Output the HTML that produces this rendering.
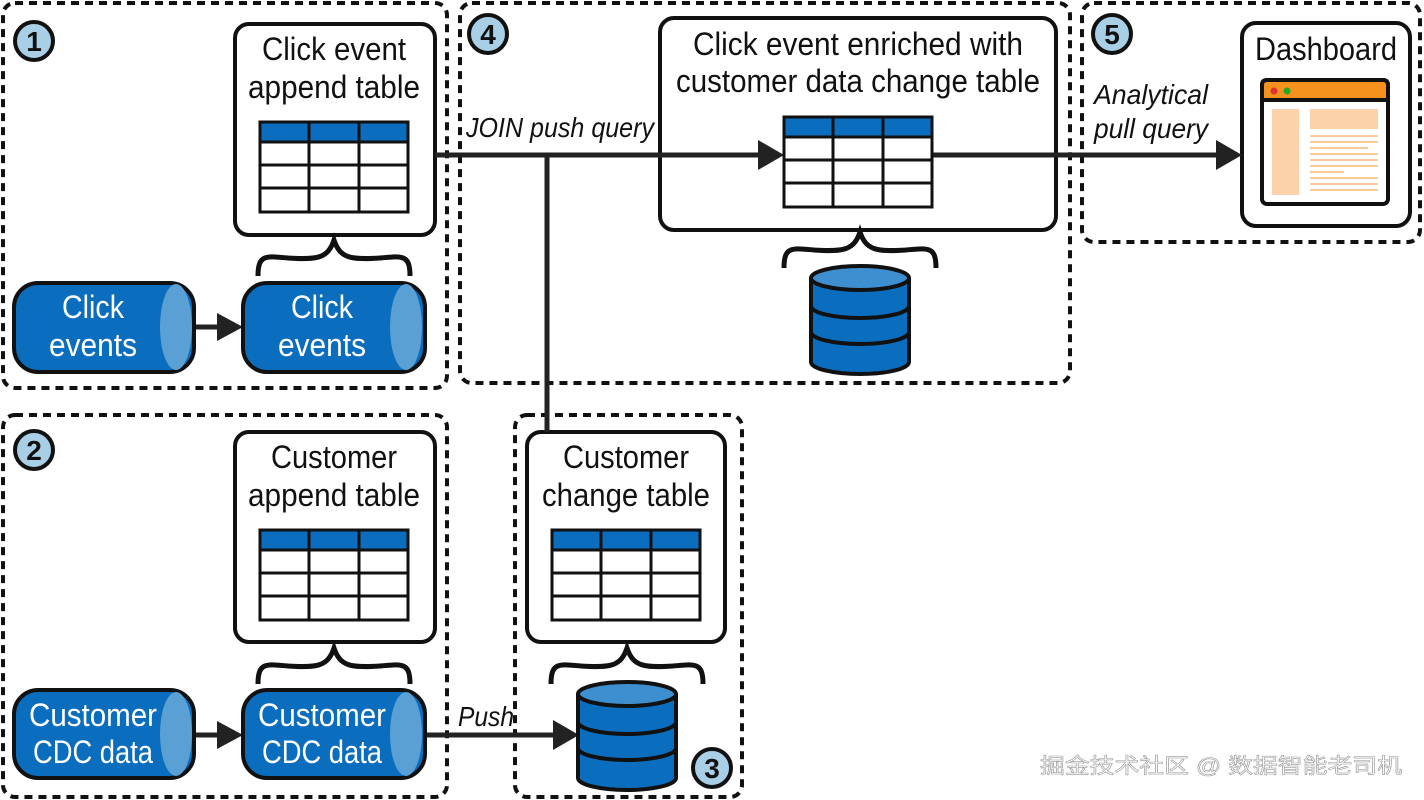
<!DOCTYPE html>
<html><head><meta charset="utf-8"><style>body{margin:0;background:#fff}svg{display:block}text{font-family:"Liberation Sans","Noto Sans CJK SC",sans-serif}</style></head><body>
<svg width="1424" height="800" viewBox="0 0 1424 800" xmlns="http://www.w3.org/2000/svg">
<defs>
<g id="tbl">
<rect x="0" y="0" width="148" height="90" fill="#fff" stroke="#111" stroke-width="3"/>
<rect x="0" y="0" width="148" height="20" fill="#0a6dbd" stroke="#111" stroke-width="3"/>
<line x1="0" y1="43" x2="148" y2="43" stroke="#111" stroke-width="3"/>
<line x1="0" y1="66" x2="148" y2="66" stroke="#111" stroke-width="3"/>
<line x1="49" y1="0" x2="49" y2="90" stroke="#111" stroke-width="3"/>
<line x1="99" y1="0" x2="99" y2="90" stroke="#111" stroke-width="3"/>
</g>
<g id="brace"><path d="M0 36 C0 14 8 16 30 18 C60 20 70 18 76 0 C82 18 92 20 122 18 C144 16 152 14 152 36" fill="none" stroke="#111" stroke-width="5"/></g>
<g id="db">
<path d="M-49 14 L-49 98 A49 12 0 0 0 49 98 L49 14" fill="#0a6dbd" stroke="#111" stroke-width="4"/>
<ellipse cx="0" cy="14" rx="49" ry="12" fill="#3d8fd0" stroke="#111" stroke-width="4"/>
<path d="M-49 42 A49 12 0 0 0 49 42" fill="none" stroke="#111" stroke-width="4"/>
<path d="M-49 68 A49 12 0 0 0 49 68" fill="none" stroke="#111" stroke-width="4"/>
</g>
</defs>
<g fill="none" stroke="#111" stroke-width="4" stroke-dasharray="8 6">
<rect x="3" y="3" width="444" height="385" rx="12"/>
<rect x="3" y="415" width="444" height="382" rx="12"/>
<rect x="515" y="415" width="227" height="382" rx="12"/>
<rect x="460" y="3" width="610" height="380" rx="12"/>
<rect x="1082" y="3" width="338" height="239" rx="12"/>
</g>
<!-- circles -->
<g stroke="#111" stroke-width="4" fill="#a9cfe6">
<circle cx="34" cy="41" r="19"/><circle cx="34" cy="450" r="19"/><circle cx="488" cy="34" r="19"/><circle cx="1112" cy="34" r="19"/><circle cx="712" cy="768" r="19"/>
</g>
<g font-size="28" font-weight="bold" text-anchor="middle" fill="#111">
<text x="34" y="51">1</text><text x="34" y="460">2</text><text x="488" y="44">4</text><text x="1112" y="44">5</text><text x="712" y="778">3</text>
</g>
<!-- boxes -->
<g fill="#fff" stroke="#111" stroke-width="4">
<rect x="235" y="24" width="200" height="211" rx="14"/>
<rect x="235" y="432" width="200" height="210" rx="14"/>
<rect x="527" y="432" width="198" height="210" rx="14"/>
<rect x="660" y="18" width="396" height="212" rx="14"/>
<rect x="1242" y="23" width="168" height="203" rx="14"/>
</g>
<!-- connectors -->
<g stroke="#222" stroke-width="5">
<line x1="435" y1="155" x2="760" y2="155"/>
<line x1="932" y1="155" x2="1218" y2="155"/>
<line x1="547" y1="155" x2="547" y2="432"/>
<line x1="195" y1="327" x2="220" y2="327"/>
<line x1="425" y1="735" x2="556" y2="735"/>
<line x1="195" y1="735" x2="220" y2="735"/>
</g>
<g fill="#222">
<polygon points="758,140 784,155 758,170"/>
<polygon points="1216,140 1242,155 1216,170"/>
<polygon points="217,313 243,327 217,341"/>
<polygon points="217,721 243,735 217,749"/>
<polygon points="553,720 579,735 553,750"/>
</g>
<use href="#tbl" x="260" y="122"/><use href="#tbl" x="260" y="530"/><use href="#tbl" x="552" y="530"/><use href="#tbl" x="784" y="117"/>
<g font-size="32" fill="#111" text-anchor="middle">
<text x="334" y="60" textLength="144" lengthAdjust="spacingAndGlyphs">Click event</text>
<text x="334" y="98" textLength="172" lengthAdjust="spacingAndGlyphs">append table</text>
<text x="334" y="468" textLength="126" lengthAdjust="spacingAndGlyphs">Customer</text>
<text x="334" y="506" textLength="172" lengthAdjust="spacingAndGlyphs">append table</text>
<text x="626" y="468" textLength="126" lengthAdjust="spacingAndGlyphs">Customer</text>
<text x="626" y="506" textLength="168" lengthAdjust="spacingAndGlyphs">change table</text>
<text x="858" y="55" textLength="330" lengthAdjust="spacingAndGlyphs">Click event enriched with</text>
<text x="858" y="92" textLength="364" lengthAdjust="spacingAndGlyphs">customer data change table</text>
<text x="1326" y="60" textLength="142" lengthAdjust="spacingAndGlyphs">Dashboard</text>
</g>
<g font-size="28" font-style="italic" fill="#111">
<text x="466" y="137" textLength="188" lengthAdjust="spacingAndGlyphs">JOIN push query</text>
<text x="1094" y="104" textLength="114" lengthAdjust="spacingAndGlyphs">Analytical</text>
<text x="1094" y="138" textLength="114" lengthAdjust="spacingAndGlyphs">pull query</text>
<text x="458" y="726" textLength="56" lengthAdjust="spacingAndGlyphs">Push</text>
</g>
<!-- dashboard icon -->
<rect x="1262" y="80" width="126" height="124" rx="5" fill="#fff" stroke="#111" stroke-width="4"/>
<path d="M1262 100 L1262 85 Q1262 80 1267 80 L1383 80 Q1388 80 1388 85 L1388 100 Z" fill="#f5921e" stroke="#111" stroke-width="4"/>
<circle cx="1274" cy="91" r="3.5" fill="#d33"/><circle cx="1287" cy="91" r="3.5" fill="#2a2"/>
<rect x="1272" y="109" width="27" height="86" fill="#fcd2ab"/>
<rect x="1310" y="109" width="68" height="20" fill="#fcd2ab"/>
<g stroke="#fcc99a" stroke-width="2"><line x1="1310" y1="136" x2="1378" y2="136"/><line x1="1310" y1="142" x2="1378" y2="142"/><line x1="1310" y1="148" x2="1368" y2="148"/><line x1="1310" y1="154" x2="1378" y2="154"/><line x1="1310" y1="160" x2="1378" y2="160"/><line x1="1310" y1="166" x2="1378" y2="166"/><line x1="1310" y1="172" x2="1344" y2="172"/><line x1="1310" y1="178" x2="1378" y2="178"/><line x1="1310" y1="184" x2="1378" y2="184"/><line x1="1310" y1="190" x2="1378" y2="190"/></g>
<!-- braces -->
<use href="#brace" x="258" y="240"/><use href="#brace" x="258" y="648"/><use href="#brace" x="784" y="232"/><use href="#brace" x="551" y="648"/>
<!-- dbs -->
<use href="#db" x="860" y="264"/><use href="#db" x="627" y="680"/>
<!-- cylinders -->
<rect x="14" y="283" width="180" height="89" rx="24" fill="#0a6dbd" stroke="#111" stroke-width="4"/>
<ellipse cx="176" cy="327" rx="16" ry="43" fill="#5aa0d4"/>
<rect x="243" y="283" width="182" height="89" rx="24" fill="#0a6dbd" stroke="#111" stroke-width="4"/>
<ellipse cx="406" cy="327" rx="16" ry="43" fill="#5aa0d4"/>
<rect x="14" y="690" width="180" height="88" rx="24" fill="#0a6dbd" stroke="#111" stroke-width="4"/>
<ellipse cx="176" cy="734" rx="16" ry="42" fill="#5aa0d4"/>
<rect x="243" y="690" width="182" height="88" rx="24" fill="#0a6dbd" stroke="#111" stroke-width="4"/>
<ellipse cx="406" cy="734" rx="16" ry="42" fill="#5aa0d4"/>
<g font-size="32" fill="#fff" text-anchor="middle">
<text x="93" y="318" textLength="62" lengthAdjust="spacingAndGlyphs">Click</text>
<text x="93" y="356" textLength="88" lengthAdjust="spacingAndGlyphs">events</text>
<text x="322" y="318" textLength="62" lengthAdjust="spacingAndGlyphs">Click</text>
<text x="322" y="356" textLength="88" lengthAdjust="spacingAndGlyphs">events</text>
<text x="93" y="726" textLength="128" lengthAdjust="spacingAndGlyphs">Customer</text>
<text x="93" y="763" textLength="120" lengthAdjust="spacingAndGlyphs">CDC data</text>
<text x="322" y="726" textLength="128" lengthAdjust="spacingAndGlyphs">Customer</text>
<text x="322" y="763" textLength="120" lengthAdjust="spacingAndGlyphs">CDC data</text>
</g>
<text x="1040" y="773" font-size="21" fill="#fff" stroke="#999" stroke-width="0.6" textLength="362" lengthAdjust="spacingAndGlyphs">掘金技术社区 @ 数据智能老司机</text>
</svg>
</body></html>
